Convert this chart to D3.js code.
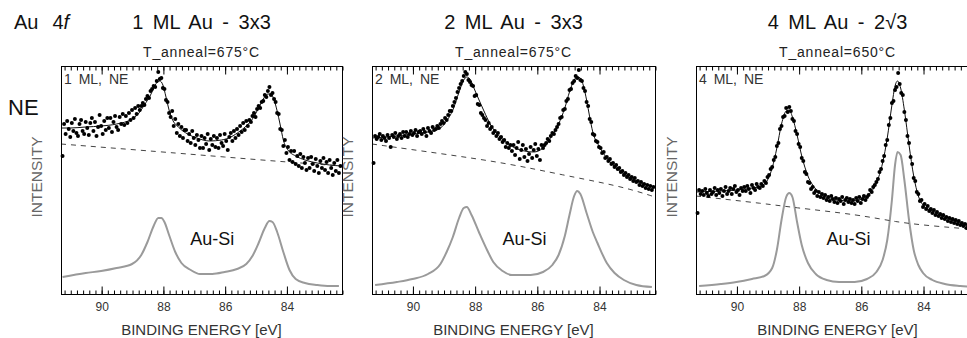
<!DOCTYPE html>
<html><head><meta charset="utf-8">
<script src="https://cdn.jsdelivr.net/npm/d3@7"></script>
<style>
body{margin:0;background:#fff;}
svg{display:block;}
text{font-family:"Liberation Sans",Arial,sans-serif;}
</style>
</head><body>
<svg id="chart" width="967" height="338"></svg>
<script>
// ---------------- DATA ----------------
const energyTicks = [90, 88, 86, 84];
const tickLabels = ["90", "88", "86", "84"];
const panelTitles = ["1 ML Au - 3x3", "2 ML Au - 3x3", "4 ML Au - 2\u221A3"];
const annealLabels = ["T_anneal=675\u00B0C", "T_anneal=675\u00B0C", "T_anneal=650\u00B0C"];
const panelLabels = ["1 ML, NE", "2 ML, NE", "4 ML, NE"];
const refLabel = "Au-Si";

// measured points: start energy 91.25 eV, step 0.05 eV (intensity, a.u.)
const dotStartE = 91.25, dotStepE = 0.05;
const dots1 = [
138,170,160,173,165,157,171,163,175,161,
158,170,174,163,160,172,166,159,171,176,
163,172,158,167,179,168,160,173,164,176,
166,176,162,172,178,167,164,177,170,180,
169,178,171,181,174,184,176,186,180,188,
184,188,191,189,195,198,196,203,205,208,
207,213,222,215,216,206,205,194,192,181,
177,183,168,175,161,170,158,167,156,164,
164,153,160,151,163,156,149,159,154,146,
158,146,156,150,160,144,155,149,158,147,
156,146,159,151,148,160,153,144,157,161,
153,163,156,165,159,168,162,171,164,173,
168,174,172,178,181,177,185,188,186,192,
193,199,197,203,207,199,201,195,192,181,
180,165,164,148,154,141,147,134,143,132,
143,130,138,128,140,126,137,131,124,136,
126,137,130,123,135,128,121,133,126,136,
124,132,121,134,126,119,131,123,134,121,128];
const dots2 = [
131,158,155,157,160,154,158,156,153,159,
156,147,159,157,161,155,158,160,156,162,
158,162,157,160,163,159,161,164,158,162,
163,160,165,162,158,166,163,161,167,164,
165,168,166,170,173,171,176,174,179,183,
183,188,192,196,202,206,210,213,218,222,
220,214,212,209,208,198,199,190,189,181,
179,176,174,168,171,165,167,161,163,158,
161,155,157,152,154,147,151,146,149,143,
149,139,146,152,135,144,149,137,145,133,
140,147,136,144,150,138,145,134,149,146,
149,151,155,153,158,161,160,164,167,170,
176,177,184,185,193,195,204,205,211,213,
218,216,224,214,213,206,203,192,188,175,
172,160,159,153,152,147,146,141,142,136,
137,133,135,130,131,127,129,125,126,122,
123,119,121,117,119,115,117,113,116,112,
113,109,112,108,110,106,109,105,108,104,107];
const dots3 = [
81,104,100,103,99,105,101,98,104,100,
102,106,99,104,101,105,98,103,107,100,
103,106,100,105,108,102,104,99,106,103,
107,103,108,105,101,109,106,104,110,107,
106,110,108,113,111,117,119,125,127,134,
137,148,151,165,168,177,178,186,182,187,
183,175,173,163,160,150,147,136,133,122,
120,112,111,105,107,101,103,98,102,97,
100,96,99,94,97,93,98,95,92,96,
91,95,93,97,90,94,96,92,95,91,
94,90,96,93,97,91,95,98,94,97,
99,104,102,107,109,112,115,122,125,133,
138,149,154,169,176,191,193,204,207,221,
210,201,199,182,174,158,151,137,130,116,
113,102,100,93,94,87,90,85,88,83,
85,81,84,79,82,78,80,76,79,75,
77,73,76,72,75,71,74,70,73,69,
71,68,70,66,69,65,68,64,67,63,66];

// fitted envelopes [energy, intensity]
const fit1 = [[91.3,166],[91.0,166],[90.5,167],[90.0,168],[89.5,170],[89.0,175],[88.8,180],[88.6,189],[88.4,199],[88.25,209],[88.1,213],[88.0,209],[87.9,197],[87.8,184],[87.7,175],[87.5,167],[87.2,160],[86.9,156],[86.5,153],[86.1,154],[85.8,157],[85.5,163],[85.3,168],[85.1,175],[84.9,186],[84.75,195],[84.6,200],[84.5,200],[84.4,194],[84.3,183],[84.2,169],[84.1,154],[83.95,144],[83.7,138],[83.4,134],[83.0,131],[82.6,129],[82.2,128]];
const fit2 = [[91.3,156],[90.5,158],[90.0,160],[89.5,162],[89.1,166],[88.9,173],[88.7,184],[88.5,202],[88.35,214],[88.25,217],[88.15,215],[88.05,208],[87.9,197],[87.7,183],[87.5,170],[87.3,161],[87.0,152],[86.7,146],[86.4,143],[86.1,142],[85.8,146],[85.5,159],[85.3,170],[85.1,186],[84.95,202],[84.8,214],[84.7,217],[84.6,216],[84.5,208],[84.4,194],[84.3,177],[84.2,162],[84.0,148],[83.8,138],[83.55,129],[83.1,118],[82.7,112],[82.25,107]];
const fit3 = [[91.3,102],[90.5,103],[90.0,104],[89.5,106],[89.2,108],[89.0,114],[88.85,126],[88.7,146],[88.55,170],[88.4,183],[88.3,184],[88.2,177],[88.05,159],[87.9,138],[87.7,118],[87.45,105],[87.2,98],[86.8,94],[86.3,93],[85.9,96],[85.7,101],[85.5,111],[85.3,131],[85.15,156],[85.0,189],[84.9,208],[84.82,213],[84.72,206],[84.6,184],[84.45,149],[84.3,118],[84.15,98],[84.0,89],[83.7,83],[83.3,77],[82.9,72],[82.5,68],[82.2,66]];

// background (dashed)
const bg1 = [[91.3,150],[88.0,142],[86.0,137],[84.0,132],[82.2,128]];
const bg2 = [[91.3,150],[89.0,140],[87.0,131],[85.0,118],[84.0,112],[83.0,105],[82.2,97]];
const bg3 = [[91.3,98],[89.0,90],[88.3,87],[86.0,79],[84.9,72],[83.7,68],[82.5,65],[82.2,64]];

// Au-Si reference spectra (grey)
const ref1 = [[91.25,17],[90.5,21],[90.0,23],[89.5,26],[89.0,30],[88.7,39],[88.5,52],[88.3,68],[88.15,76],[88.05,76],[87.95,72],[87.8,59],[87.6,42],[87.4,31],[87.1,24],[86.8,20],[86.4,20],[86.0,22],[85.6,25],[85.3,30],[85.1,38],[84.9,51],[84.7,66],[84.55,73],[84.45,72],[84.3,62],[84.1,42],[83.9,24],[83.7,15],[83.4,11],[83.0,9],[82.6,8],[82.3,8]];
const ref2 = [[91.2,9],[90.5,12],[90.0,15],[89.5,20],[89.1,30],[88.9,42],[88.7,57],[88.5,76],[88.35,86],[88.25,87],[88.1,79],[87.85,61],[87.6,44],[87.4,32],[87.1,23],[86.8,19],[86.2,19],[85.8,22],[85.5,29],[85.3,39],[85.1,58],[84.95,79],[84.8,98],[84.7,103],[84.6,100],[84.4,81],[84.2,62],[84.05,51],[83.75,31],[83.5,21],[83.2,14],[82.8,9],[82.3,7]];
const ref3 = [[91.2,8],[90.5,10],[90.0,12],[89.5,15],[89.1,18],[88.85,26],[88.7,44],[88.55,74],[88.4,97],[88.3,101],[88.2,97],[88.05,72],[87.9,49],[87.7,31],[87.45,20],[87.1,14],[86.7,12],[86.2,12],[85.8,15],[85.5,22],[85.3,34],[85.15,54],[85.0,94],[84.9,129],[84.82,142],[84.72,139],[84.6,114],[84.45,74],[84.3,44],[84.15,29],[84.0,21],[83.7,14],[83.3,10],[82.8,8],[82.2,7]];

// ---------------- LAYOUT ----------------
const svg = d3.select("#chart");
const plotTop = 66, plotBottom = 294;
const energyDomain = [91.3, 82.2];
const intensityDomain = [0, 228];
const panels = [
  {x0: 61,  w: 281, dots: dots1, fit: fit1, bg: bg1, ref: ref1},
  {x0: 372, w: 283, dots: dots2, fit: fit2, bg: bg2, ref: ref2},
  {x0: 696, w: 283, dots: dots3, fit: fit3, bg: bg3, ref: ref3}
];
const minorTicks = d3.range(411, 457).map(d => d / 5);

const au = svg.append("text").attr("x", 14).attr("y", 29).attr("font-size", 20).attr("fill", "#111");
au.append("tspan").text("Au");
au.append("tspan").attr("dx", 14).text("4");
au.append("tspan").attr("font-style", "italic").text("f");
svg.append("text").attr("x", 8).attr("y", 115).attr("font-size", 22).attr("fill", "#111").text("NE");

panels.forEach((p, k) => {
  const x = d3.scaleLinear().domain(energyDomain).range([p.x0, p.x0 + p.w]);
  const y = d3.scaleLinear().domain(intensityDomain).range([plotBottom, plotTop]);
  const g = svg.append("g");
  const cx = p.x0 + p.w / 2;

  // titles
  g.append("text").attr("x", cx).attr("y", 29).attr("text-anchor", "middle")
    .attr("font-size", 20).attr("word-spacing", 4).attr("fill", "#111").text(panelTitles[k]);
  g.append("text").attr("x", cx).attr("y", 57).attr("text-anchor", "middle")
    .attr("font-size", 14).attr("letter-spacing", 0.8).attr("fill", "#222").text(annealLabels[k]);

  // y title
  g.append("text").attr("transform", `translate(${p.x0 - 19},${177}) rotate(-90)`)
    .attr("text-anchor", "middle").attr("font-size", 15.5).attr("fill", "#666").text("INTENSITY");

  // x title
  g.append("text").attr("x", cx).attr("y", 335).attr("text-anchor", "middle")
    .attr("font-size", 15).attr("fill", "#333").text("BINDING ENERGY [eV]");

  const line = d3.line().x(d => x(d[0])).y(d => y(d[1])).curve(d3.curveMonotoneX);

  // reference (grey)
  g.append("path").datum(p.ref).attr("d", line).attr("fill", "none")
    .attr("stroke", "#9a9a9a").attr("stroke-width", 2);
  // background (dashed)
  g.append("path").datum(p.bg).attr("d", d3.line().x(d => x(d[0])).y(d => y(d[1])).curve(d3.curveBasis))
    .attr("fill", "none").attr("stroke", "#444").attr("stroke-width", 1).attr("stroke-dasharray", "5,5");
  // fit
  g.append("path").datum(p.fit).attr("d", line).attr("fill", "none")
    .attr("stroke", "#111").attr("stroke-width", 1);
  // dots
  g.selectAll("circle.dot").data(p.dots).join("circle").attr("class", "dot")
    .attr("cx", (d, i) => x(dotStartE - dotStepE * i)).attr("cy", d => y(d))
    .attr("r", 2).attr("fill", "#000");

  // frame
  g.append("rect").attr("x", p.x0 + 0.5).attr("y", plotTop + 0.5)
    .attr("width", p.w).attr("height", plotBottom - plotTop)
    .attr("fill", "none").attr("stroke", "#000").attr("stroke-width", 1);

  // axes
  const bMinor = g.append("g").attr("transform", `translate(0.5,${plotBottom + 0.5})`)
    .call(d3.axisBottom(x).tickValues(minorTicks).tickSize(-4).tickFormat(""));
  const bMajor = g.append("g").attr("transform", `translate(0.5,${plotBottom + 0.5})`)
    .call(d3.axisBottom(x).tickValues(energyTicks).tickSize(-8).tickPadding(8)
      .tickFormat((d, i) => tickLabels[i]));
  const tMinor = g.append("g").attr("transform", `translate(0.5,${plotTop + 0.5})`)
    .call(d3.axisTop(x).tickValues(minorTicks).tickSize(-4).tickFormat(""));
  const tMajor = g.append("g").attr("transform", `translate(0.5,${plotTop + 0.5})`)
    .call(d3.axisTop(x).tickValues(energyTicks).tickSize(-8).tickFormat(""));
  [bMinor, bMajor, tMinor, tMajor].forEach(a => {
    a.select(".domain").remove();
    a.selectAll("line").attr("stroke", "#000");
  });
  bMajor.selectAll("text").attr("font-size", 12).attr("fill", "#333")
    .attr("font-family", "Liberation Sans, Arial, sans-serif");

  // labels
  g.append("text").attr("x", p.x0 + 3).attr("y", 84).attr("font-size", 14)
    .attr("word-spacing", 3).attr("fill", "#333").text(panelLabels[k]);
  g.append("text").attr("x", x(86.4)).attr("y", 245).attr("text-anchor", "middle")
    .attr("font-size", 18).attr("fill", "#111").text(refLabel);
});
</script>
</body></html>
